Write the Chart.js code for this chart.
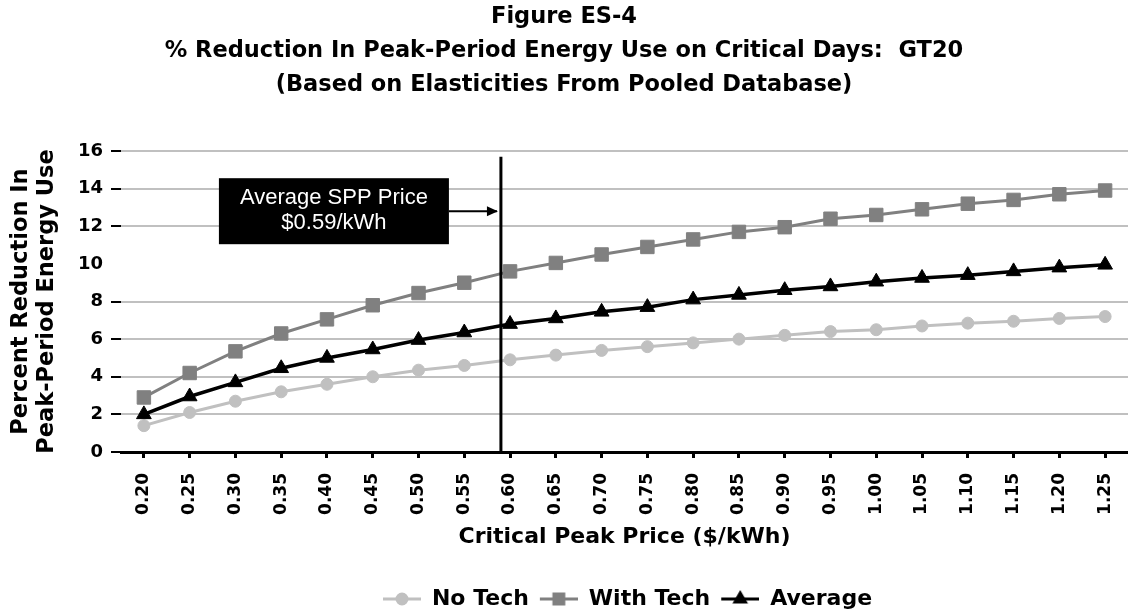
<!DOCTYPE html>
<html>
<head>
<meta charset="utf-8">
<script src="https://cdn.jsdelivr.net/npm/chart.js@4.4.1/dist/chart.umd.min.js"></script>
<style>
  body { margin: 0; background: #fff; }
  #wrap { width: 1128px; height: 614px; }
</style>
</head>
<body>
<div id="wrap"><canvas id="chart"></canvas></div>
<script>
// Critical peak prices ($/kWh)
const priceLabels = ['0.20', '0.25', '0.30', '0.35', '0.40', '0.45', '0.50', '0.55', '0.60', '0.65', '0.70',
  '0.75', '0.80', '0.85', '0.90', '0.95', '1.00', '1.05', '1.10', '1.15', '1.20', '1.25'];

// % reduction in peak-period energy use
const noTech   = [1.4, 2.1, 2.7, 3.2, 3.6, 4.0, 4.35, 4.6, 4.9, 5.15, 5.4, 5.6, 5.8, 6.0, 6.2, 6.4, 6.5, 6.7, 6.85, 6.95, 7.1, 7.2];
const withTech = [2.9, 4.2, 5.35, 6.3, 7.05, 7.8, 8.45, 9.0, 9.6, 10.05, 10.5, 10.9, 11.3, 11.7, 11.95, 12.4, 12.6, 12.9, 13.2, 13.4, 13.7, 13.9];
const average  = [2.0, 2.95, 3.7, 4.45, 5.0, 5.45, 5.95, 6.35, 6.8, 7.1, 7.45, 7.7, 8.1, 8.35, 8.6, 8.8, 9.05, 9.25, 9.4, 9.6, 9.8, 9.95];

const sppPrice = 0.59;
const sppText = ['Average SPP Price', '$0.59/kWh'];

const titleLines = [
  'Figure ES-4',
  '% Reduction In Peak-Period Energy Use on Critical Days:  GT20',
  '(Based on Elasticities From Pooled Database)'
];

Chart.defaults.font.family = "'DejaVu Sans', sans-serif";
Chart.defaults.font.weight = 'bold';
Chart.defaults.color = '#000';

// little line+marker icons for the legend
function legendIcon(color, style, r, lw) {
  const c = document.createElement('canvas');
  c.width = 44;
  c.height = 20;
  const g = c.getContext('2d');
  g.strokeStyle = color;
  g.fillStyle = color;
  g.lineWidth = lw;
  g.beginPath();
  g.moveTo(6, 10);
  g.lineTo(44, 10);
  g.stroke();
  Chart.helpers.drawPoint(g, { pointStyle: style, radius: r, borderWidth: 1 }, 25, 10);
  g.fill();
  return c;
}
const legendIcons = [
  legendIcon('#c0c0c0', 'circle', 5, 3),
  legendIcon('#808080', 'rect', 7, 3),
  legendIcon('#000000', 'triangle', 6, 3)
];

// vertical line at the average SPP price, with a labelled box and arrow
const sppMarker = {
  id: 'sppMarker',
  afterDatasetsDraw(chart) {
    const { ctx, scales: { x, y } } = chart;
    const p0 = parseFloat(priceLabels[0]);
    const step = parseFloat(priceLabels[1]) - p0;
    const px = x.getPixelForValue((sppPrice - p0) / step);

    ctx.save();
    ctx.strokeStyle = '#000';
    ctx.lineWidth = 3;
    ctx.beginPath();
    ctx.moveTo(px, y.getPixelForValue(15.7));
    ctx.lineTo(px, y.bottom);
    ctx.stroke();

    const cy = y.getPixelForValue(12.8);
    const right = px - 52;
    const left = right - 230;
    ctx.fillStyle = '#000';
    ctx.fillRect(left, cy - 33, right - left, 66);

    ctx.fillStyle = '#fff';
    ctx.font = "22px 'Liberation Sans', Arial, sans-serif";
    ctx.textAlign = 'center';
    ctx.textBaseline = 'middle';
    ctx.fillText(sppText[0], (left + right) / 2, cy - 13);
    ctx.fillText(sppText[1], (left + right) / 2, cy + 12);

    ctx.lineWidth = 2;
    ctx.beginPath();
    ctx.moveTo(right, cy);
    ctx.lineTo(px - 4, cy);
    ctx.stroke();
    ctx.beginPath();
    ctx.moveTo(px - 3, cy);
    ctx.lineTo(px - 14, cy - 5);
    ctx.lineTo(px - 14, cy + 5);
    ctx.closePath();
    ctx.fillStyle = '#000';
    ctx.fill();
    ctx.restore();
  }
};

new Chart(document.getElementById('chart'), {
  type: 'line',
  data: {
    labels: priceLabels,
    datasets: [
      {
        label: 'No Tech',
        data: noTech,
        order: 2,
        borderColor: '#c0c0c0',
        backgroundColor: '#c0c0c0',
        borderWidth: 3,
        pointStyle: 'circle',
        pointRadius: 6,
        pointBorderWidth: 1
      },
      {
        label: 'With Tech',
        data: withTech,
        order: 1,
        borderColor: '#808080',
        backgroundColor: '#808080',
        borderWidth: 3,
        pointStyle: 'rect',
        pointRadius: 9.5,
        pointBorderWidth: 1
      },
      {
        label: 'Average',
        data: average,
        order: 0,
        borderColor: '#000',
        backgroundColor: '#000',
        borderWidth: 3.5,
        pointStyle: 'triangle',
        pointRadius: 8.5,
        pointBorderWidth: 1
      }
    ]
  },
  options: {
    responsive: true,
    maintainAspectRatio: false,
    animation: false,
    layout: { autoPadding: false, padding: { top: 0, left: 0, right: 0, bottom: -6 } },
    plugins: {
      title: {
        display: true,
        text: titleLines,
        color: '#000',
        font: { size: 22.5, weight: 'bold', lineHeight: '34px' },
        padding: { top: 0, bottom: 49 }
      },
      legend: {
        position: 'bottom',
        fullSize: false,
        labels: {
          color: '#000',
          font: { size: 22, weight: 'bold' },
          usePointStyle: true,
          pointStyleWidth: 44,
          padding: 5,
          sort: (a, b) => a.datasetIndex - b.datasetIndex,
          generateLabels: chart =>
            Chart.defaults.plugins.legend.labels.generateLabels(chart).map(l => ({
              ...l,
              pointStyle: legendIcons[l.datasetIndex]
            }))
        }
      },
      tooltip: { enabled: false }
    },
    scales: {
      x: {
        offset: true,
        afterFit: scale => {
          scale.height = 131;
          scale.paddingLeft = 0;
          scale.paddingRight = 0;
        },
        border: { display: true, color: '#000', width: 3 },
        grid: {
          drawOnChartArea: false,
          drawTicks: true,
          tickLength: 6,
          tickColor: '#000',
          tickWidth: 3
        },
        ticks: {
          minRotation: 90,
          maxRotation: 90,
          padding: 15,
          color: '#000',
          font: { size: 17, weight: 'bold' }
        },
        title: {
          display: true,
          text: 'Critical Peak Price ($/kWh)',
          color: '#000',
          font: { size: 22, weight: 'bold' },
          padding: { top: 0, bottom: 33 }
        }
      },
      y: {
        min: 0,
        max: 16,
        afterFit: scale => { scale.width = 121; },
        border: { display: false },
        grid: {
          color: c => (c.tick && c.tick.value === 10 ? 'rgba(0,0,0,0)' : '#c0c0c0'),
          lineWidth: 2,
          drawTicks: true,
          tickLength: 10,
          tickWidth: 2,
          tickColor: c => (c.tick && c.tick.value === 10 ? 'rgba(0,0,0,0)' : '#000')
        },
        ticks: {
          stepSize: 2,
          padding: 8,
          color: '#000',
          font: { size: 18, weight: 'bold' }
        },
        title: {
          display: true,
          text: ['Percent Reduction In', 'Peak-Period Energy Use'],
          color: '#000',
          font: { size: 22.5, weight: 'bold', lineHeight: '26px' },
          padding: { top: 8, bottom: 0 }
        }
      }
    }
  },
  plugins: [sppMarker]
});
</script>
</body>
</html>
